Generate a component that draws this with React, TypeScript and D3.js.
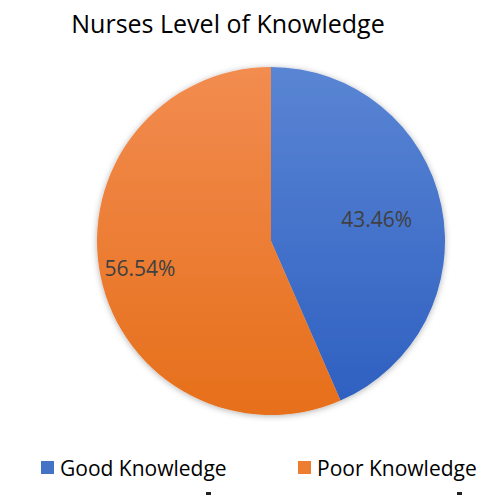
import React from "react";
import * as d3 from "d3";

const categories = ["Good Knowledge", "Poor Knowledge"];
const values = [43.46, 56.54];
const labels = ["43.46%", "56.54%"];
const title = "Nurses Level of Knowledge";

const gradients = [
  { id: "gradGood", top: "#5a85d4", bottom: "#2d5fc0" },
  { id: "gradPoor", top: "#f28c50", bottom: "#e66f1a" },
];
const legendColors = ["#4472c4", "#ed7d31"];
// label distance from centre, as a share of the radius, per slice
const labelRadius = [0.62, 0.77];

export default function App() {
  const width = 500;
  const height = 495;
  const cx = 271;
  const cy = 241;
  const r = 174;

  const pie = d3.pie<number>().value((d) => d).sort(null);
  const arcs = pie(values);
  const arc = d3.arc<d3.PieArcDatum<number>>().innerRadius(0).outerRadius(r);

  const font = "'Open Sans', 'Noto Sans', sans-serif";

  return (
    <svg
      width={width}
      height={height}
      style={{ position: "absolute", left: 0, top: 0, background: "#fff" }}
    >
      <defs>
        {gradients.map((g) => (
          <linearGradient
            key={g.id}
            id={g.id}
            gradientUnits="userSpaceOnUse"
            x1={0}
            y1={-r}
            x2={0}
            y2={r}
          >
            <stop offset="0%" stopColor={g.top} />
            <stop offset="100%" stopColor={g.bottom} />
          </linearGradient>
        ))}
        <filter id="pieShadow" x="-20%" y="-20%" width="140%" height="140%">
          <feDropShadow dx={0} dy={1} stdDeviation={3} floodColor="#000" floodOpacity={0.3} />
        </filter>
      </defs>

      <text x={228} y={33} textAnchor="middle" fontFamily={font} fontSize={25} fill="#000">
        {title}
      </text>

      <g transform={`translate(${cx},${cy})`}>
        <g filter="url(#pieShadow)">
          {arcs.map((a, i) => (
            <path key={i} d={arc(a) || ""} fill={`url(#${gradients[i].id})`} />
          ))}
        </g>
        {arcs.map((a, i) => {
          const lr = r * labelRadius[i];
          const [lx, ly] = d3
            .arc<d3.PieArcDatum<number>>()
            .innerRadius(lr)
            .outerRadius(lr)
            .centroid(a);
          return (
            <text
              key={`l${i}`}
              x={lx}
              y={ly}
              textAnchor="middle"
              dominantBaseline="central"
              fontFamily={font}
              fontSize={21}
              fill="#404040"
            >
              {labels[i]}
            </text>
          );
        })}
      </g>

      {categories.map((c, i) => {
        const x0 = i === 0 ? 41 : 298;
        return (
          <g key={c}>
            <rect x={x0} y={461} width={13} height={13} fill={legendColors[i]} />
            <text
              x={x0 + 19}
              y={467.5}
              dominantBaseline="central"
              fontFamily={font}
              fontSize={21}
              fill="#000"
            >
              {c}
            </text>
          </g>
        );
      })}

      <rect x={206} y={492} width={5} height={3} fill="#222" />
      <rect x={457} y={492} width={5} height={3} fill="#222" />
    </svg>
  );
}
